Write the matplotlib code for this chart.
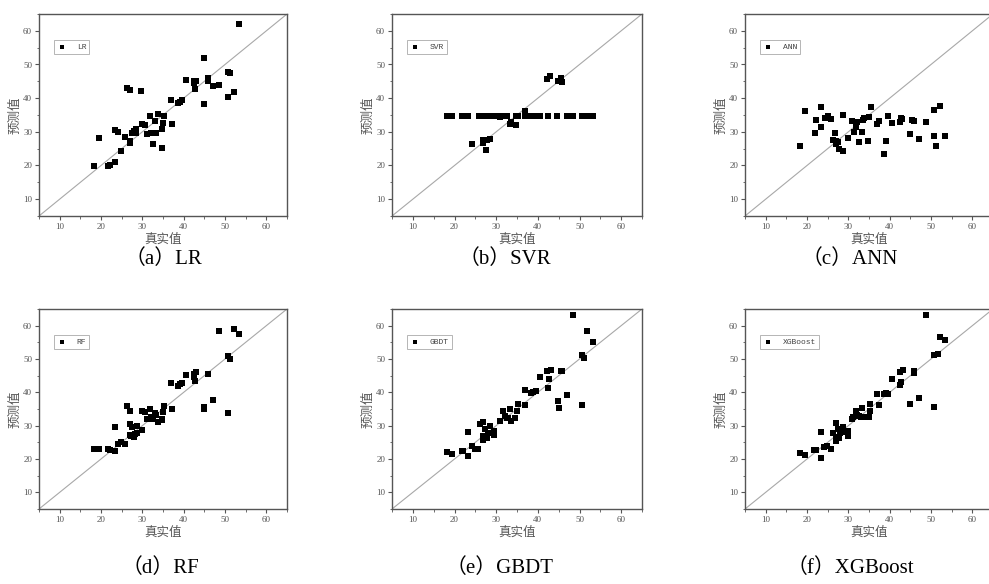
import numpy as np
import matplotlib
matplotlib.use("Agg")
import matplotlib.pyplot as plt
from matplotlib.ticker import MultipleLocator

plt.rcParams['font.family'] = ['Liberation Serif', 'Noto Sans CJK SC', 'DejaVu Sans']

# ---- data: (true value, predicted value) per model ----
lr_x = [18.2, 19.4, 21.8, 22.2, 23.4, 23.5, 24.2, 24.8, 25.8, 26.3, 26.9, 26.9, 26.9,
        27.5, 28.0, 28.4, 28.5, 29.7, 29.8, 30.7, 31.2, 31.9, 32.2, 32.6, 33.1, 33.4,
        33.7, 34.7, 34.8, 35.0, 35.2, 36.9, 37.2, 38.6, 39.1, 39.7, 40.6, 42.4, 42.5,
        42.7, 43.1, 44.8, 44.9, 45.8, 46.0, 47.1, 48.5, 50.7, 50.8, 51.3, 52.1, 53.4]
lr_y = [19.8, 28.3, 19.9, 20.2, 20.9, 30.6, 30.0, 24.3, 28.6, 43.0, 42.5, 27.2, 26.6,
        29.6, 30.2, 29.6, 30.8, 42.1, 32.4, 32.1, 29.4, 34.8, 29.8, 26.3, 33.2, 29.6,
        35.3, 25.2, 30.7, 32.7, 34.8, 39.4, 32.4, 38.6, 38.9, 39.6, 45.4, 45.1, 44.4,
        42.7, 45.1, 38.2, 51.8, 45.1, 45.9, 43.6, 44.0, 40.4, 47.9, 47.6, 41.8, 62.1]

svr_x = [18.1, 19.3, 21.7, 22.3, 23.3, 25.8, 26.4, 27.0, 27.6, 28.2, 28.9, 29.5, 30.2,
         31.5, 32.1, 32.7, 34.8, 35.2, 36.8, 38.4, 38.9, 39.4, 40.0, 40.5, 42.5, 44.7,
         47.1, 48.5, 50.7, 51.2, 51.9, 53.3,
         30.8, 24.1, 26.8, 26.8, 27.6, 27.9, 28.5, 33.3, 33.6, 34.8, 37.0, 42.2, 43.0,
         44.9, 45.6, 45.8]
svr_y = [34.7, 34.7, 34.7, 34.7, 34.7, 34.7, 34.7, 34.7, 34.7, 34.7, 34.7, 34.7, 34.7,
         34.7, 34.7, 34.7, 34.7, 34.7, 34.7, 34.7, 34.7, 34.7, 34.7, 34.7, 34.7, 34.7,
         34.7, 34.7, 34.7, 34.7, 34.7, 34.7,
         34.4, 26.4, 27.6, 26.6, 24.7, 27.7, 27.9, 32.4, 32.8, 31.9, 36.1, 45.7, 46.6,
         45.0, 45.9, 44.8]

ann_x = [18.3, 19.5, 21.9, 22.2, 23.5, 23.5, 24.3, 25.0, 25.8, 26.3, 26.8, 26.9, 27.1,
         27.6, 27.8, 28.6, 28.6, 29.8, 30.8, 31.3, 31.9, 32.2, 32.7, 33.2, 33.5, 33.9,
         34.8, 34.9, 35.4, 36.9, 37.3, 38.7, 39.2, 39.7, 40.6, 42.6, 42.7, 43.1, 44.9,
         45.3, 45.9, 47.2, 48.7, 50.8, 50.8, 51.3, 52.1, 53.4]
ann_y = [25.8, 36.1, 29.6, 33.6, 37.5, 31.4, 34.2, 34.6, 33.9, 27.6, 29.6, 26.4, 27.4,
         26.9, 24.9, 24.3, 35.1, 28.2, 33.1, 29.9, 31.4, 32.9, 27.0, 29.9, 33.4, 34.2,
         27.4, 34.4, 37.5, 32.4, 33.2, 23.4, 27.2, 34.7, 32.5, 33.0, 34.0, 33.8, 29.4,
         33.5, 33.2, 28.0, 32.9, 36.4, 28.9, 25.9, 37.7, 28.8]

rf_x = [18.2, 19.4, 21.8, 22.2, 23.4, 23.4, 24.2, 24.8, 25.8, 26.3, 26.9, 26.9, 26.9,
        27.2, 27.5, 27.9, 28.2, 28.6, 28.7, 29.8, 29.8, 30.7, 31.2, 31.9, 32.2, 32.6,
        33.1, 33.4, 33.8, 34.7, 34.8, 35.0, 35.2, 36.9, 37.2, 38.6, 39.1, 39.7, 40.6,
        42.4, 42.5, 42.7, 43.1, 44.8, 45.0, 45.8, 46.0, 47.1, 48.5, 50.7, 50.8, 51.3,
        52.1, 53.4]
rf_y = [23.0, 23.0, 23.0, 22.8, 22.5, 29.6, 24.5, 25.2, 24.6, 35.8, 34.4, 30.5, 27.2,
        27.0, 29.5, 26.7, 27.5, 30.0, 27.7, 28.7, 34.5, 34.2, 31.9, 34.9, 32.6, 32.0,
        33.9, 33.2, 31.2, 32.0, 31.7, 34.2, 35.9, 42.8, 35.1, 42.0, 42.4, 42.9, 45.1,
        45.5, 44.5, 43.3, 46.0, 35.0, 35.7, 45.5, 45.5, 37.6, 58.3, 33.7, 50.9, 50.0,
        59.1, 57.6]

gbdt_x = [18.2, 19.4, 21.8, 22.1, 23.3, 23.3, 24.1, 24.8, 25.7, 26.2, 26.8, 26.8, 26.9,
          27.3, 27.7, 28.0, 28.5, 28.5, 29.5, 29.5, 30.8, 31.0, 31.7, 32.1, 32.6, 32.9,
          33.3, 33.6, 34.6, 34.9, 35.2, 36.9, 37.0, 38.4, 38.9, 39.5, 40.5, 42.2, 42.6,
          42.4, 43.1, 44.8, 45.1, 45.5, 45.7, 47.0, 48.5, 50.6, 50.6, 51.0, 51.9, 53.3]
gbdt_y = [22.0, 21.5, 22.3, 22.3, 20.9, 28.2, 23.9, 22.9, 22.9, 30.4, 31.0, 27.0, 25.7,
          28.9, 26.4, 27.9, 29.8, 27.9, 27.3, 28.3, 31.3, 31.3, 34.3, 33.0, 32.4, 32.3,
          35.1, 31.5, 32.3, 34.3, 36.5, 40.8, 36.1, 39.8, 40.1, 40.4, 44.5, 46.3, 43.9,
          41.4, 46.6, 37.4, 35.2, 46.3, 46.5, 39.2, 63.2, 36.2, 51.2, 50.3, 58.4, 55.0]

xgb_x = [18.3, 19.5, 21.8, 22.1, 23.5, 23.5, 24.2, 24.8, 25.8, 26.3, 26.9, 26.9, 27.0,
         27.4, 27.7, 28.1, 28.6, 28.6, 29.8, 29.9, 30.8, 31.1, 31.9, 32.2, 32.7, 33.1,
         33.4, 33.8, 34.7, 35.0, 35.2, 35.3, 37.0, 37.3, 38.6, 39.2, 39.7, 40.6, 42.5,
         42.7, 42.6, 43.2, 44.8, 45.0, 45.8, 46.0, 47.2, 48.7, 50.8, 50.8, 51.6, 52.1,
         53.4]
xgb_y = [21.8, 21.3, 22.6, 22.6, 20.2, 28.1, 23.6, 23.8, 23.1, 27.9, 30.7, 26.7, 25.4,
         28.9, 26.3, 27.9, 29.5, 28.2, 27.0, 28.4, 32.0, 32.7, 34.3, 33.2, 32.9, 32.5,
         35.2, 32.5, 32.5, 32.5, 34.5, 36.5, 39.5, 36.2, 39.5, 39.7, 39.4, 44.0, 46.0,
         43.2, 42.2, 46.6, 36.6, 36.4, 45.9, 46.4, 38.3, 63.2, 35.5, 51.2, 51.4, 56.5,
         55.6]

models = ['LR', 'SVR', 'ANN', 'RF', 'GBDT', 'XGBoost']
captions = ['（a）LR', '（b）SVR', '（c）ANN', '（d）RF', '（e）GBDT', '（f）XGBoost']
xs = [lr_x, svr_x, ann_x, rf_x, gbdt_x, xgb_x]
ys = [lr_y, svr_y, ann_y, rf_y, gbdt_y, xgb_y]

W, H = 989, 584
fig = plt.figure(figsize=(W / 100, H / 100), dpi=100)

# axes boxes in pixels: left, top, width, height
lefts = [39, 392, 745]
tops = [14, 309]
widths = [248, 250, 248]
heights = [202, 200]
cap_x = [163, 505, 850, 160, 500, 850]
cap_y = [259, 568]

for i in range(6):
    r, c = divmod(i, 3)
    l, t, w, h = lefts[c], tops[r], widths[c], heights[r]
    ax = fig.add_axes([l / W, 1 - (t + h) / H, w / W, h / H])
    ax.plot([5, 65], [5, 65], color='#a8a8a8', lw=0.8, zorder=1)
    ax.scatter(xs[i], ys[i], marker='s', s=15, color='black', linewidths=0,
               label=models[i], zorder=2)
    ax.set_xlim(5, 65)
    ax.set_ylim(5, 65)
    ax.set_xticks([10, 20, 30, 40, 50, 60])
    ax.set_yticks([10, 20, 30, 40, 50, 60])
    ax.xaxis.set_minor_locator(MultipleLocator(5))
    ax.yaxis.set_minor_locator(MultipleLocator(5))
    ax.tick_params(which='major', direction='out', length=3, width=0.8,
                   labelsize=6.5, colors='#555555', pad=2)
    ax.tick_params(which='minor', direction='out', length=1.8, width=0.6,
                   colors='#555555')
    for s in ax.spines.values():
        s.set_color('#555555')
        s.set_linewidth(1.0)
    ax.set_xlabel('真实值', family=['Noto Sans CJK SC'], fontsize=9,
                  color='#555555', labelpad=1)
    ax.set_ylabel('预测值', family=['Noto Sans CJK SC'], fontsize=9,
                  color='#555555', labelpad=1)
    leg = ax.legend(loc='upper left', bbox_to_anchor=(0.045, 0.89), fancybox=False,
                    framealpha=1, edgecolor='#aaaaaa', handletextpad=1.2,
                    borderpad=0.4, handlelength=1.2, markerscale=0.9,
                    prop={'family': 'Liberation Mono', 'size': 5.8})
    leg.get_frame().set_linewidth(0.6)
    for txt in leg.get_texts():
        txt.set_color('#444444')
    fig.text(cap_x[i] / W, 1 - cap_y[r] / H, captions[i], fontsize=15,
             ha='center', va='center', color='black')

fig.savefig('out.png', dpi=100)
